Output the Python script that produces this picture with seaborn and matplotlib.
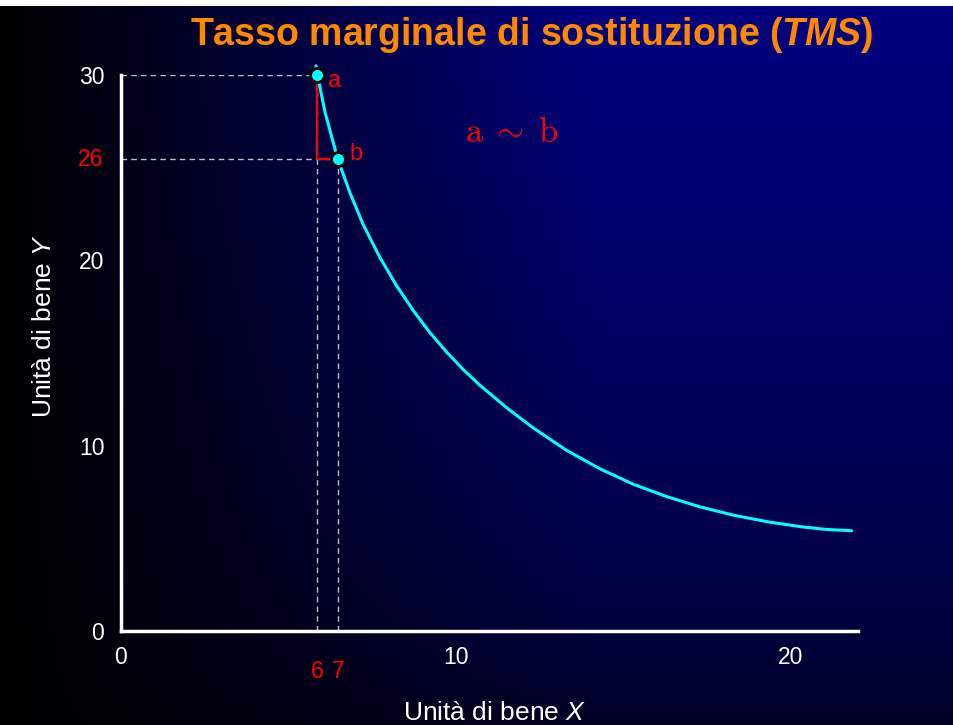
import numpy as np
import matplotlib
matplotlib.use('Agg')
import matplotlib.pyplot as plt
import seaborn as sns

# curva di indifferenza
curve_x = [5.82, 5.86, 6.09, 6.47, 6.84, 7.23, 7.73, 8.22, 8.72, 9.22, 9.72, 10.22, 10.72,
           11.51, 12.31, 13.30, 14.30, 15.29, 16.29, 17.28, 18.28, 19.28, 20.28, 21.05, 21.81]
curve_y = [30.5, 30.04, 28.0, 25.46, 23.62, 21.93, 20.15, 18.65, 17.3, 16.1, 15.05, 14.1, 13.25,
           12.05, 10.95, 9.75, 8.75, 7.92, 7.25, 6.70, 6.25, 5.90, 5.63, 5.48, 5.41]

# panieri a e b
point_x = [5.86, 6.47]
point_y = [30.0, 25.46]
point_names = ['a', 'b']

xticks = [0, 10, 20]
yticks = [0, 10, 20, 30]
x_marks = ['6', '7']
y_mark = '26'

sns.set_style('dark')
plt.rcParams['font.family'] = ['Liberation Sans', 'DejaVu Sans']
plt.rcParams['mathtext.fontset'] = 'custom'
plt.rcParams['mathtext.rm'] = 'Liberation Sans'
plt.rcParams['mathtext.it'] = 'Liberation Sans:italic'
plt.rcParams['mathtext.bfit'] = 'Liberation Sans:italic:bold'

fig = plt.figure(figsize=(9.54, 7.25), dpi=100)

# sfondo sfumato nero -> blu
H, W = 725, 954
yy, xx = np.mgrid[0:H, 0:W]
u = xx / W
v = 1 - yy / H
img = np.zeros((H, W, 3))
img[..., 2] = np.clip(1.6 * u, 0, 1) * (0.25 + 0.75 * v ** 0.6) * 0.5
img[:6] = 1.0
bg = fig.add_axes([0, 0, 1, 1], zorder=0)
bg.imshow(img, aspect='auto', extent=[0, 1, 0, 1])
bg.set_axis_off()

ax = fig.add_axes([121 / 954, 94 / 725, 737 / 954, 556 / 725], zorder=1)
ax.patch.set_alpha(0)
ax.grid(False)
ax.set_xlim(0, 22)
ax.set_ylim(0, 30)

# linee tratteggiate di riferimento
ax.hlines(point_y, 0, point_x, colors='#c0c0c0', linestyles=(0, (4, 3)), lw=1)
ax.vlines(point_x, 0, point_y, colors='#c0c0c0', linestyles=(0, (4, 3)), lw=1)

# triangolo rosso
ax.plot([point_x[0], point_x[0], point_x[1]], [point_y[0], point_y[1], point_y[1]],
        color='red', lw=1.6, zorder=3)

sns.lineplot(x=curve_x, y=curve_y, ax=ax, color='#00ffff', lw=2.2, sort=False,
             estimator=None, clip_on=False, zorder=4)
sns.scatterplot(x=point_x, y=point_y, ax=ax, color='#00ffff', edgecolor='black',
                linewidth=2, s=100, zorder=5, clip_on=False)

offsets = [(12.5, -4), (13.5, 4)]
for name, px, py, off in zip(point_names, point_x, point_y, offsets):
    ax.annotate(name, (px, py), xytext=off, textcoords='offset points',
                color='red', fontsize=17, ha='center', va='center')

for lab, px in zip(x_marks, point_x):
    ax.annotate(lab, (px, 0), xytext=(0, -29.5), textcoords='offset points',
                color='red', fontsize=16.5, ha='center', va='center', annotation_clip=False)
ax.annotate(y_mark, (0, point_y[1]), xytext=(-12.5, 0), textcoords='offset points',
            color='red', fontsize=16.5, ha='right', va='center', annotation_clip=False)

ax.text(11.66, 26.9, r'$\mathrm{a}\;\sim\;\mathrm{b}$', math_fontfamily='cm',
        fontsize=25, color='red', ha='center', va='center')

ax.set_xticks(xticks)
ax.set_yticks(yticks)
ax.tick_params(colors='white', labelsize=16.5, length=5, width=1.5, direction='out')
ax.tick_params(axis='x', pad=6)
ax.tick_params(axis='y', pad=7)
ax.spines[['top', 'right']].set_visible(False)
for s in ['left', 'bottom']:
    ax.spines[s].set_color('white')
    ax.spines[s].set_linewidth(2.5)

ax.text(0.507, -0.160, 'Unità di bene $\\mathit{X}$', transform=ax.transAxes,
        ha='center', va='baseline', fontsize=19, color='white')
ax.text(-0.1045, 0.549, 'Unità di bene $\\mathit{Y}$', transform=ax.transAxes,
        ha='center', va='center', rotation=90, fontsize=19, color='white')

fig.text(531.5 / 954, (725 - 45) / 725, 'Tasso marginale di sostituzione ($\\mathbfit{TMS}$)',
         ha='center', va='baseline', fontsize=27, fontweight='bold', color='#ff8800')

fig.savefig('out.png', dpi=100)
